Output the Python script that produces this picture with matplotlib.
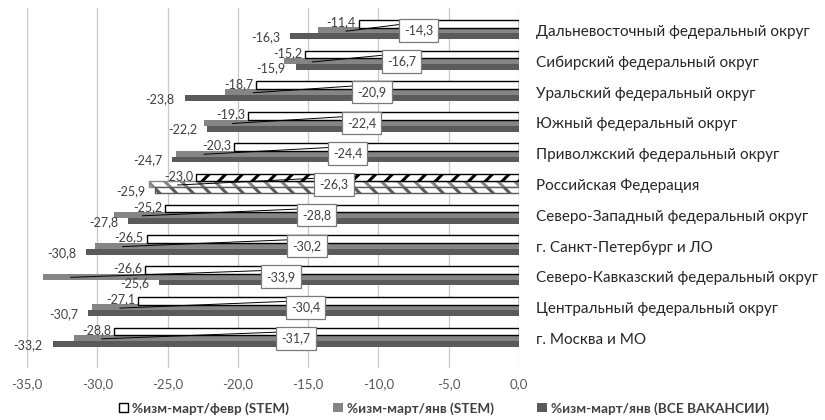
import matplotlib.pyplot as plt
import numpy as np

# данные: изменение числа вакансий, %
regiony = ['Дальневосточный федеральный округ', 'Сибирский федеральный округ',
           'Уральский федеральный округ', 'Южный федеральный округ',
           'Приволжский федеральный округ', 'Российская Федерация',
           'Северо-Западный федеральный округ', 'г. Санкт-Петербург и ЛО',
           'Северо-Кавказский федеральный округ', 'Центральный федеральный округ',
           'г. Москва и МО']
mart_fevr_stem = [-11.4, -15.2, -18.7, -19.3, -20.3, -23.0, -25.2, -26.5, -26.6, -27.1, -28.8]
mart_yanv_stem = [-14.3, -16.7, -20.9, -22.4, -24.4, -26.3, -28.8, -30.2, -33.9, -30.4, -31.7]
mart_yanv_vse = [-16.3, -15.9, -23.8, -22.2, -24.7, -25.9, -27.8, -30.8, -25.6, -30.7, -33.2]
xticks = [-35, -30, -25, -20, -15, -10, -5, 0]
legend_names = ['%изм-март/февр (STEM)', '%изм-март/янв (STEM)', '%изм-март/янв (ВСЕ ВАКАНСИИ)']

svetlo = '#858585'
temno = '#5a5a5a'
txt = '#404040'

plt.rcParams['font.family'] = ['Lato', 'DejaVu Sans']
plt.rcParams['hatch.linewidth'] = 2.2

fig = plt.figure(figsize=(8.25, 4.2), dpi=100)
ax = fig.add_axes([0.033, 0.125, 0.596, 0.855])

y = np.arange(len(regiony))
rf = regiony.index('Российская Федерация')

b1 = ax.barh(y - 0.22, mart_fevr_stem, height=0.25, color='white', edgecolor='black', linewidth=1.0, zorder=3)
b2 = ax.barh(y, mart_yanv_stem, height=0.2, color=svetlo, linewidth=0, zorder=2)
b3 = ax.barh(y + 0.19, mart_yanv_vse, height=0.19, color=temno, linewidth=0, zorder=2)

# РФ - штриховка
b1[rf].set_hatch('//')
b2[rf].set_facecolor('white')
b2[rf].set_edgecolor(svetlo)
b2[rf].set_hatch('\\\\')
b2[rf].set_linewidth(1)
b3[rf].set_facecolor('white')
b3[rf].set_edgecolor(temno)
b3[rf].set_hatch('\\\\')
b3[rf].set_linewidth(1)

def fmt(v):
    return f'{v:.1f}'.replace('.', ',')

for i in range(len(regiony)):
    # подписи у концов столбиков
    ax.annotate(fmt(mart_fevr_stem[i]), (mart_fevr_stem[i], y[i] - 0.27), xytext=(-2, 0),
                textcoords='offset points', ha='right', va='center', fontsize=9, color=txt, zorder=5)
    ax.annotate(fmt(mart_yanv_vse[i]), (mart_yanv_vse[i], y[i] + 0.22), xytext=(-7, 0),
                textcoords='offset points', ha='right', va='center', fontsize=9, color=txt, zorder=5)
    # выноска в рамке
    mid = mart_yanv_stem[i] / 2
    ax.plot([mart_yanv_stem[i] + 2.0, mid - 1.3], [y[i] + 0.02, y[i] - 0.2],
            color='black', linewidth=0.7, zorder=4)
    ax.text(mid, y[i], fmt(mart_yanv_stem[i]), ha='center', va='center', fontsize=9, color=txt,
            zorder=6, bbox=dict(boxstyle='square,pad=0.42', facecolor='white', edgecolor='#7a7a7a', linewidth=0.9))

ax.set_xlim(-35, 0)
ax.set_ylim(10.95, -0.72)
ax.set_xticks(xticks)
ax.set_xticklabels([fmt(v) for v in xticks], fontsize=9.5, color='#595959')
ax.set_yticks(y)
ax.set_yticklabels(regiony, fontsize=11, color='#262626')
ax.yaxis.tick_right()
ax.tick_params(axis='y', length=0, pad=12)
ax.tick_params(axis='x', length=0, pad=8)
ax.grid(axis='x', color='#c8c8c8', linewidth=0.9, zorder=0)
ax.set_axisbelow(True)
for s in ax.spines.values():
    s.set_visible(False)

leg = fig.legend([b1[0], b2[0], b3[0]], legend_names, loc='center', bbox_to_anchor=(0.538, 0.028),
                 ncol=3, frameon=False, handlelength=0.7, handleheight=0.7,
                 handletextpad=0.3, columnspacing=3.2, prop={'weight': 'bold', 'size': 9.8})
for t in leg.get_texts():
    t.set_color('#404040')

plt.savefig('out.png', dpi=100)
